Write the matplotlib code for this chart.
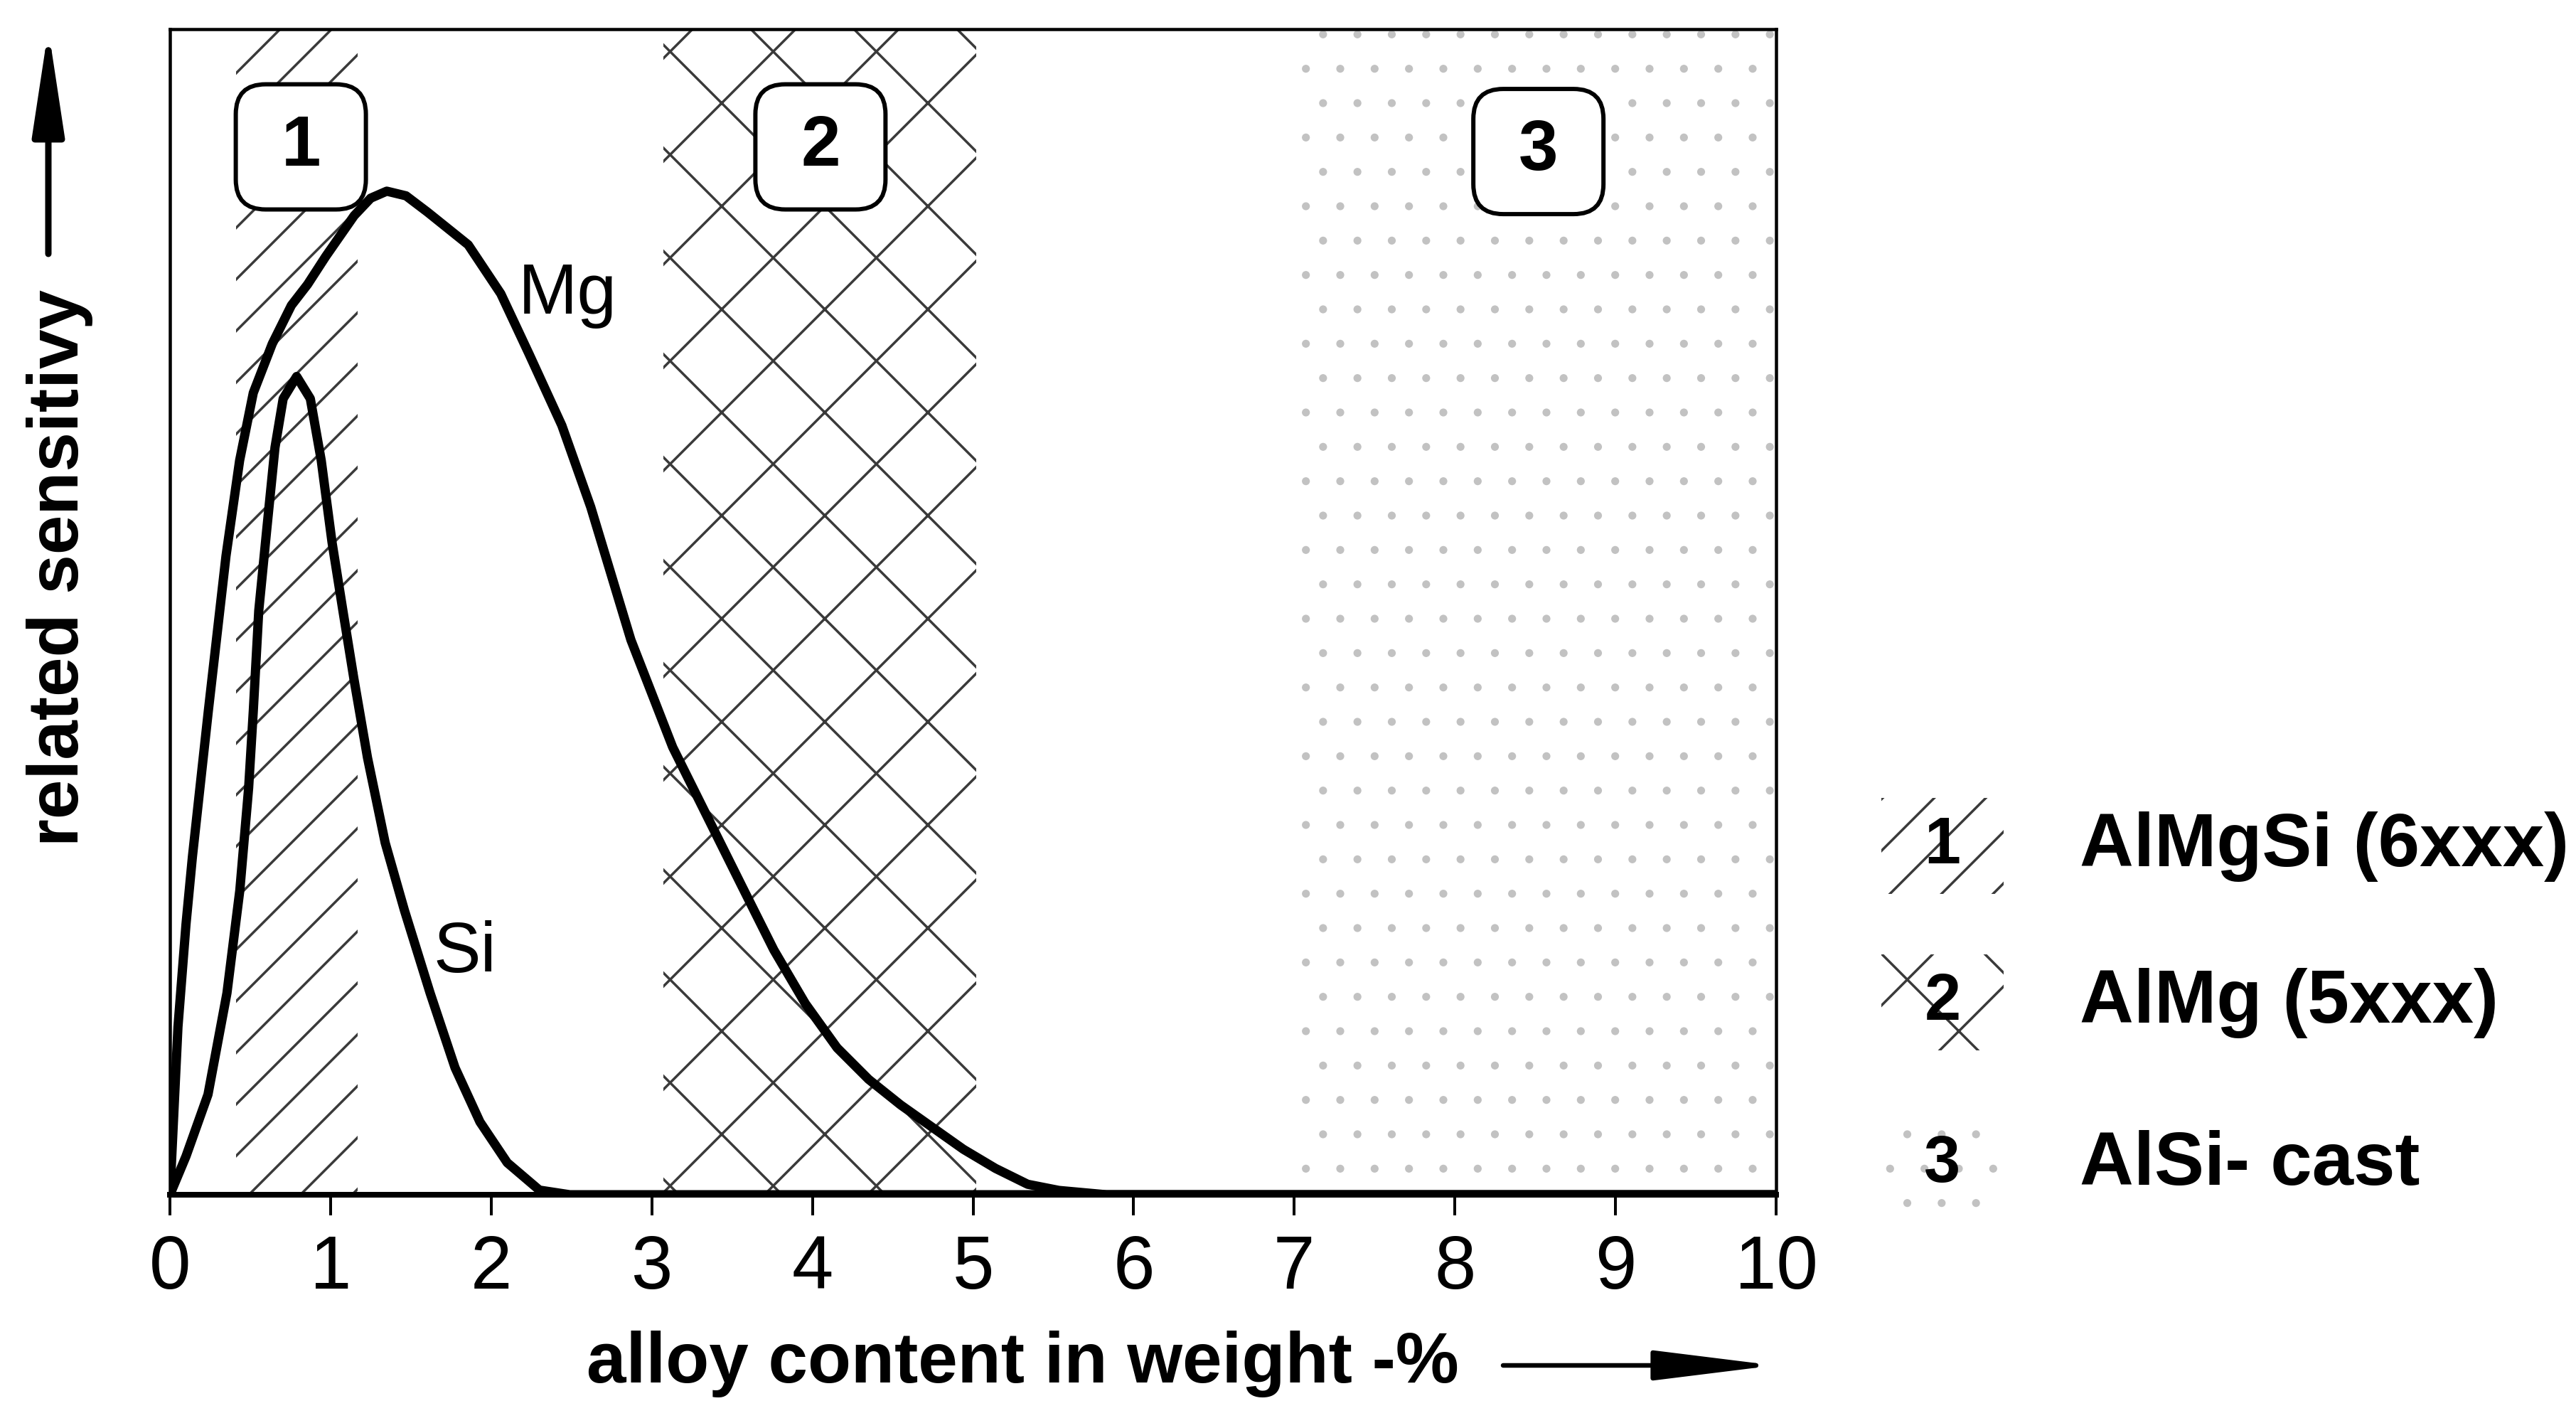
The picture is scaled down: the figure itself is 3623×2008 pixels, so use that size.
import matplotlib
matplotlib.use("Agg")
import matplotlib.pyplot as plt
from matplotlib.patches import FancyBboxPatch, Rectangle, FancyArrowPatch

# ---------------- data ----------------
mg_x = [0, 0.05, 0.10, 0.14, 0.239, 0.349, 0.434, 0.519, 0.637, 0.756, 0.857, 0.97,
        1.147, 1.25, 1.35, 1.47, 1.604, 1.857, 2.06, 2.237, 2.44, 2.62, 2.87, 3.13,
        3.307, 3.56, 3.76, 3.956, 4.154, 4.35, 4.55, 4.745, 4.94, 5.14, 5.34, 5.535,
        5.83, 10.0]
mg_y = [0, 0.144, 0.232, 0.290, 0.415, 0.548, 0.630, 0.688, 0.730, 0.763, 0.781, 0.805,
        0.840, 0.855, 0.861, 0.857, 0.843, 0.815, 0.773, 0.721, 0.660, 0.590, 0.476,
        0.384, 0.335, 0.265, 0.210, 0.164, 0.126, 0.099, 0.077, 0.058, 0.039, 0.0226,
        0.009, 0.0037, 0.0, 0.0]

si_x = [0, 0.10, 0.237, 0.355, 0.435, 0.49, 0.519, 0.553, 0.603, 0.654, 0.705, 0.789,
        0.874, 0.942, 1.009, 1.077, 1.145, 1.23, 1.34, 1.46, 1.62, 1.775, 1.93, 2.10,
        2.30, 2.49, 10.0]
si_y = [0, 0.033, 0.086, 0.173, 0.261, 0.349, 0.415, 0.501, 0.571, 0.641, 0.683, 0.702,
        0.683, 0.630, 0.560, 0.501, 0.443, 0.375, 0.302, 0.244, 0.173, 0.109, 0.0625,
        0.0275, 0.004, 0.0, 0.0]

curve_labels = ["Mg", "Si"]
curve_label_x = [2.474, 1.835]
curve_label_y = [0.772, 0.207]

region_numbers = ["1", "2", "3"]
region_start = [0.41, 3.07, 7.0]
region_end = [1.17, 5.02, 10.0]
region_hatch = ["////", "xx", "..."]
region_color = ["#3a3a3a", "#3a3a3a", "#c2c2c2"]
region_hatch_lw_px = [3.5, 3.5, 1.5]
box_center_x = [0.815, 4.05, 8.52]
box_center_y = [0.899, 0.899, 0.895]

legend_labels = ["AlMgSi (6xxx)", "AlMg (5xxx)", "AlSi- cast"]

x_ticks = [0, 1, 2, 3, 4, 5, 6, 7, 8, 9, 10]
x_label = "alloy content in weight -%"
y_label = "related sensitivy"

# ---------------- layout helpers ----------------
DPI = 870
W, H = 3623, 2008


def pt(px):
    return px * 72.0 / DPI


def fx(px):
    return px / W


def fy(px_from_top):
    return 1.0 - px_from_top / H


plt.rcParams["font.family"] = ["Liberation Sans", "DejaVu Sans"]
plt.rcParams["hatch.linewidth"] = pt(3.5)

fig = plt.figure(figsize=((W + 0.01) / DPI, (H + 0.01) / DPI), dpi=DPI)
ax_left, ax_right, ax_top, ax_bottom = 239, 2498, 41, 1680
ax = fig.add_axes([fx(ax_left), fy(ax_bottom), (ax_right - ax_left) / W,
                   (ax_bottom - ax_top) / H])
ax.set_xlim(0, 10)
ax.set_ylim(0, 1)

# hatched regions
for x0, x1, h, c, hlw in zip(region_start, region_end, region_hatch, region_color,
                             region_hatch_lw_px):
    with plt.rc_context({"hatch.linewidth": pt(hlw)}):
        ax.axvspan(x0, x1, facecolor="none", edgecolor=c, hatch=h,
                   linewidth=0, zorder=1)

# curves
for xs, ys in [(mg_x, mg_y), (si_x, si_y)]:
    ax.plot(xs, ys, color="black", lw=pt(13), solid_joinstyle="round",
            solid_capstyle="round", zorder=3)

for lab, lx, ly in zip(curve_labels, curve_label_x, curve_label_y):
    ax.text(lx, ly, lab, ha="center", va="center", fontsize=pt(100), zorder=5)

# numbered rounded boxes
px_per_x = (ax_right - ax_left) / 10.0
px_per_y = (ax_bottom - ax_top) / 1.0
bw = 183 / px_per_x
bh = 176 / px_per_y
for num, cx, cy in zip(region_numbers, box_center_x, box_center_y):
    box = FancyBboxPatch((cx - bw / 2, cy - bh / 2), bw, bh,
                         boxstyle="round,pad=0,rounding_size=%f" % (42 / px_per_x),
                         mutation_aspect=px_per_x / px_per_y,
                         facecolor="white", edgecolor="black", lw=pt(6), zorder=4)
    ax.add_patch(box)
    ax.text(cx, cy, num, ha="center", va="center", fontsize=pt(100),
            fontweight="bold", zorder=5)

# axes styling
for side in ["left", "top", "right"]:
    ax.spines[side].set_linewidth(pt(4.5))
ax.spines["bottom"].set_linewidth(pt(8))
ax.set_xticks(x_ticks)
ax.set_xticklabels([str(t) for t in x_ticks])
ax.set_yticks([])
ax.tick_params(axis="x", direction="out", length=pt(29), width=pt(4),
               pad=pt(26), labelsize=pt(105))

# axis labels (with arrows)
fig.text(fx(1438), fy(1944), x_label, ha="center", va="baseline",
         fontsize=pt(100), fontweight="bold")
fig.add_artist(FancyArrowPatch((fx(2114), fy(1920)), (fx(2496), fy(1920)),
                               transform=fig.transFigure, mutation_scale=1,
                               arrowstyle="-|>,head_length=%f,head_width=%f" % (pt(145), pt(18)),
                               lw=pt(6.5), color="black", shrinkA=0, shrinkB=0))

fig.text(fx(110), fy(798), y_label, ha="center", va="baseline", rotation=90,
         rotation_mode="anchor", fontsize=pt(100), fontweight="bold")
fig.add_artist(FancyArrowPatch((fx(68), fy(357)), (fx(68), fy(41)),
                               transform=fig.transFigure, mutation_scale=1,
                               arrowstyle="-|>,head_length=%f,head_width=%f" % (pt(125), pt(19)),
                               lw=pt(9), color="black", shrinkA=0, shrinkB=0))

# legend (manual)
icon_x0, icon_w, icon_h = 2646, 172, 135
legend_center_y = [1190, 1410, 1638]
for num, lab, h, c, hlw, cy in zip(region_numbers, legend_labels, region_hatch,
                                   region_color, region_hatch_lw_px, legend_center_y):
    with plt.rc_context({"hatch.linewidth": pt(hlw)}):
        r = Rectangle((fx(icon_x0), fy(cy + icon_h / 2)), icon_w / W, icon_h / H,
                      transform=fig.transFigure, facecolor="none", edgecolor=c,
                      hatch=h, linewidth=0)
    fig.add_artist(r)
    fig.text(fx(icon_x0 + icon_w / 2), fy(cy), num, ha="center", va="center",
             fontsize=pt(92), fontweight="bold")
    fig.text(fx(2925), fy(cy), lab, ha="left", va="center",
             fontsize=pt(105), fontweight="bold")

fig.savefig("out.png", dpi=DPI, facecolor="white")
